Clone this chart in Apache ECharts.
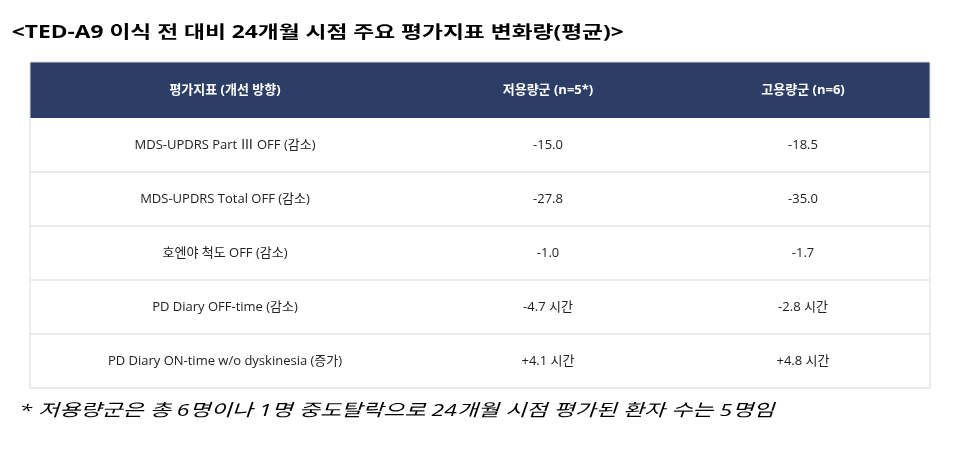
<!DOCTYPE html>
<html lang="ko">
<head>
<meta charset="UTF-8">
<script src="https://cdn.jsdelivr.net/npm/echarts/dist/echarts.min.js"></script>
<style>body{margin:0;background:#fff}</style>
</head>
<body>
<div id="chart" style="width:961px;height:454px;"></div>
<script>
var title = '<TED-A9 이식 전 대비 24개월 시점 주요 평가지표 변화량(평균)>';
var headers = ['평가지표 (개선 방향)', '저용량군 (n=5*)', '고용량군 (n=6)'];
var metrics = ['MDS-UPDRS Part Ⅲ OFF (감소)', 'MDS-UPDRS Total OFF (감소)', '호엔야 척도 OFF (감소)', 'PD Diary OFF-time (감소)', 'PD Diary ON-time w/o dyskinesia (증가)'];
var lowDose = ['-15.0', '-27.8', '-1.0', '-4.7 시간', '+4.1 시간'];
var highDose = ['-18.5', '-35.0', '-1.7', '-2.8 시간', '+4.8 시간'];
var footnote = '* 저용량군은 총 6명이나 1명 중도탈락으로 24개월 시점 평가된 환자 수는 5명임';

var chart = echarts.init(document.getElementById('chart'));
var font = '"Open Sans", "Noto Sans CJK KR", sans-serif';
var ctx = document.createElement('canvas').getContext('2d');
function fitScale(text, f, target) {
    ctx.font = f;
    return target / ctx.measureText(text).width;
}
var colX = [30, 420, 676, 930];
var headTop = 62, headH = 56, rowH = 54;
var g = [];

var titleFont = 'bold 17px ' + font;
g.push({ type: 'text', x: 480, y: 33, scaleX: fitScale(title, titleFont, 612), originX: 480, style: { text: title, fill: '#000', font: titleFont, align: 'center', verticalAlign: 'middle' } });
g.push({ type: 'rect', shape: { x: colX[0], y: headTop, width: colX[3] - colX[0], height: headH }, style: { fill: '#2c3e66' } });
headers.forEach(function (h, i) {
    g.push({ type: 'text', x: (colX[i] + colX[i + 1]) / 2, y: headTop + headH / 2, style: { text: h, fill: '#fff', font: 'bold 13px ' + font, align: 'center', verticalAlign: 'middle' } });
});
var tableBottom = headTop + headH + rowH * metrics.length;
metrics.forEach(function (m, r) {
    var y = headTop + headH + rowH * r;
    [m, lowDose[r], highDose[r]].forEach(function (t, i) {
        g.push({ type: 'text', x: (colX[i] + colX[i + 1]) / 2, y: y + rowH / 2, style: { text: t, fill: '#222', font: '13px ' + font, align: 'center', verticalAlign: 'middle' } });
    });
    if (r > 0) g.push({ type: 'line', shape: { x1: colX[0], y1: y, x2: colX[3], y2: y }, style: { stroke: '#d9d9d9', lineWidth: 1 } });
});
g.push({ type: 'rect', shape: { x: colX[0], y: headTop, width: colX[3] - colX[0], height: tableBottom - headTop }, style: { fill: 'none', stroke: '#d9d9d9', lineWidth: 1 } });
var footFont = 'italic 17px ' + font;
g.push({ type: 'text', x: 30, y: 411, scaleX: fitScale(footnote, footFont, 755), originX: 30, style: { text: footnote, fill: '#000', font: footFont, verticalAlign: 'middle' } });

chart.setOption({ graphic: g });
</script>
</body>
</html>
